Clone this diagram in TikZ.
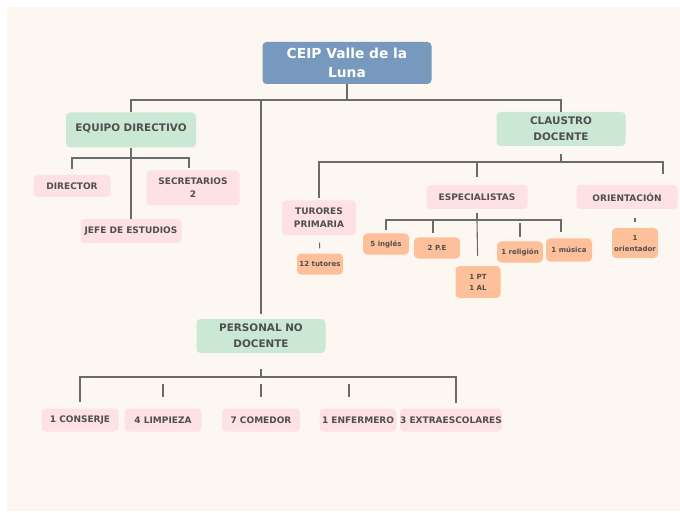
\documentclass[tikz,border=0pt]{standalone}
\usepackage{fontspec}
\setmainfont{DejaVu Sans}
\usepackage{tikz}

\definecolor{paper}{HTML}{FDF7F1}
\definecolor{rootblue}{HTML}{7799BD}
\definecolor{groupgreen}{HTML}{CBE8D4}
\definecolor{itempink}{HTML}{FEE1E4}
\definecolor{countorange}{HTML}{FDC09A}
\definecolor{linegray}{HTML}{6B6B6B}
\definecolor{textgray}{HTML}{4F4F4F}

\begin{document}
\begin{tikzpicture}[x=1pt, y=-1pt]

	\tikzstyle{root_node}=[rectangle, rounded corners=4pt, fill=rootblue, text=white, font=\bfseries\fontsize{13.8}{19}\selectfont, align=center, inner sep=0pt]
	\tikzstyle{group_node}=[rectangle, rounded corners=4pt, fill=groupgreen, text=textgray, font=\bfseries\fontsize{10.4}{16}\selectfont, align=center, inner sep=0pt]
	\tikzstyle{item_node}=[rectangle, rounded corners=4pt, fill=itempink, text=textgray, font=\bfseries\fontsize{9}{13}\selectfont, align=center, inner sep=0pt]
	\tikzstyle{count_node}=[rectangle, rounded corners=4pt, fill=countorange, text=textgray, font=\bfseries\fontsize{7}{11}\selectfont, align=center, inner sep=0pt]
	\tikzstyle{branch}=[draw=linegray, line width=1.1pt]

	\useasboundingbox (0,0) rectangle (680,513);
	\fill[paper] (7,7) rectangle (680,511);

	\coordinate (root_bar) at (347,100);
	\coordinate (equipo_bar) at (131,158);
	\coordinate (claustro_bar) at (561,162);
	\coordinate (esp_bar) at (477,220);
	\coordinate (pnd_bar) at (261,377);

	\node[root_node, minimum width=169pt, minimum height=42pt] at (347,63) (root) {CEIP Valle de la\\ Luna};

	\node[group_node, minimum width=130pt, minimum height=35pt] at (131,130) (equipo) {\raisebox{4pt}{EQUIPO DIRECTIVO}};
	\node[group_node, minimum width=129pt, minimum height=34pt] at (561,129) (claustro) {CLAUSTRO\\ DOCENTE};
	\node[group_node, minimum width=129pt, minimum height=34pt] at (261,336) (personal) {PERSONAL NO\\ DOCENTE};

	\node[item_node, minimum width=77pt, minimum height=22pt] at (72,186) (director) {DIRECTOR};
	\node[item_node, minimum width=93pt, minimum height=35pt] at (193,188) (secretarios) {SECRETARIOS\\ 2};
	\node[item_node, minimum width=101pt, minimum height=24pt] at (131,231) (jefe) {JEFE DE ESTUDIOS};
	\node[item_node, minimum width=74pt, minimum height=35pt] at (319,218) (turores) {TURORES\\ PRIMARIA};
	\node[item_node, minimum width=101pt, minimum height=24pt] at (477,197) (especialistas) {ESPECIALISTAS};
	\node[item_node, minimum width=101pt, minimum height=24pt] at (627,197) (orientacion) {ORIENTACIÓN};

	\node[count_node, minimum width=46pt, minimum height=21pt] at (320,264) (tutores) {12 tutores};
	\node[count_node, minimum width=46pt, minimum height=21pt] at (386,244) (ingles) {5 inglés};
	\node[count_node, minimum width=46pt, minimum height=21pt] at (437,248) (pe) {2 P.E};
	\node[count_node, minimum width=45pt, minimum height=32pt] at (478,282) (pt_al) {1 PT\\ 1 AL};
	\node[count_node, minimum width=46pt, minimum height=21pt] at (520,252) (religion) {1 religión};
	\node[count_node, minimum width=46pt, minimum height=23pt] at (569,250) (musica) {1 música};
	\node[count_node, minimum width=46pt, minimum height=30pt] at (635,243) (orientador) {1\\ orientador};

	\node[item_node, minimum width=77pt, minimum height=23pt] at (80,420) (conserje) {1 CONSERJE};
	\node[item_node, minimum width=77pt, minimum height=23pt] at (163,420) (limpieza) {4 LIMPIEZA};
	\node[item_node, minimum width=78pt, minimum height=23pt] at (261,420) (comedor) {7 COMEDOR};
	\node[item_node, minimum width=77pt, minimum height=23pt] at (358,420) (enfermero) {1 ENFERMERO};
	\node[item_node, minimum width=101pt, minimum height=23pt] at (451,420) (extraescolares) {3 EXTRAESCOLARES};

	% top level
	\draw[branch] (root) -- (root_bar);
	\draw[branch] (root_bar) -| (equipo);
	\draw[branch] (root_bar) -| (claustro);
	\draw[branch, shorten >=5pt] (root_bar -| personal) -- (personal);

	% equipo directivo
	\draw[branch] (equipo) -- (equipo_bar);
	\draw[branch, shorten >=6pt] (equipo_bar) -| (director);
	\draw[branch, shorten >=2pt] (equipo_bar) -| ([xshift=-4pt]secretarios.north);
	\draw[branch] (equipo_bar) -- (jefe);

	% claustro docente
	\draw[branch, shorten <=8pt] (claustro) -- (claustro_bar);
	\draw[branch, shorten >=2pt] (claustro_bar) -| (turores);
	\draw[branch, shorten >=8pt] (claustro_bar) -| (especialistas);
	\draw[branch, shorten >=11pt] (claustro_bar) -| ([xshift=36pt]orientacion.north);
	\draw[branch, shorten <=7pt, shorten >=5pt] (turores) -- (tutores);
	\draw[branch, shorten <=9pt, shorten >=6pt] (orientacion.south -| orientador) -- (orientador);

	% especialistas
	\draw[branch, shorten <=4pt] (especialistas) -- (esp_bar);
	\draw[branch, shorten >=3pt] (esp_bar) -| (ingles);
	\draw[branch, shorten >=4pt] (esp_bar) -| ([xshift=-4pt]pe.north);
	\draw[branch, shorten >=10pt] (esp_bar) -- (pt_al);
	\draw[branch, shorten <=3pt, shorten >=4pt] (esp_bar -| religion) -- (religion);
	\draw[branch, shorten >=6pt] (esp_bar) -| ([xshift=-8pt]musica.north);

	% personal no docente
	\draw[branch, shorten <=16pt] (personal) -- (pnd_bar);
	\draw[branch, shorten >=6pt] (pnd_bar) -| (conserje);
	\draw[branch, shorten >=5pt] (pnd_bar) -| ([xshift=5pt]extraescolares.north);
	\draw[branch, shorten <=7pt, shorten >=11pt] (pnd_bar -| limpieza) -- (limpieza);
	\draw[branch, shorten <=7pt, shorten >=11pt] (pnd_bar -| comedor) -- (comedor);
	\draw[branch, shorten <=7pt, shorten >=11pt] (pnd_bar -| 349,0) -- ([xshift=-9pt]enfermero.north);

\end{tikzpicture}
\end{document}
